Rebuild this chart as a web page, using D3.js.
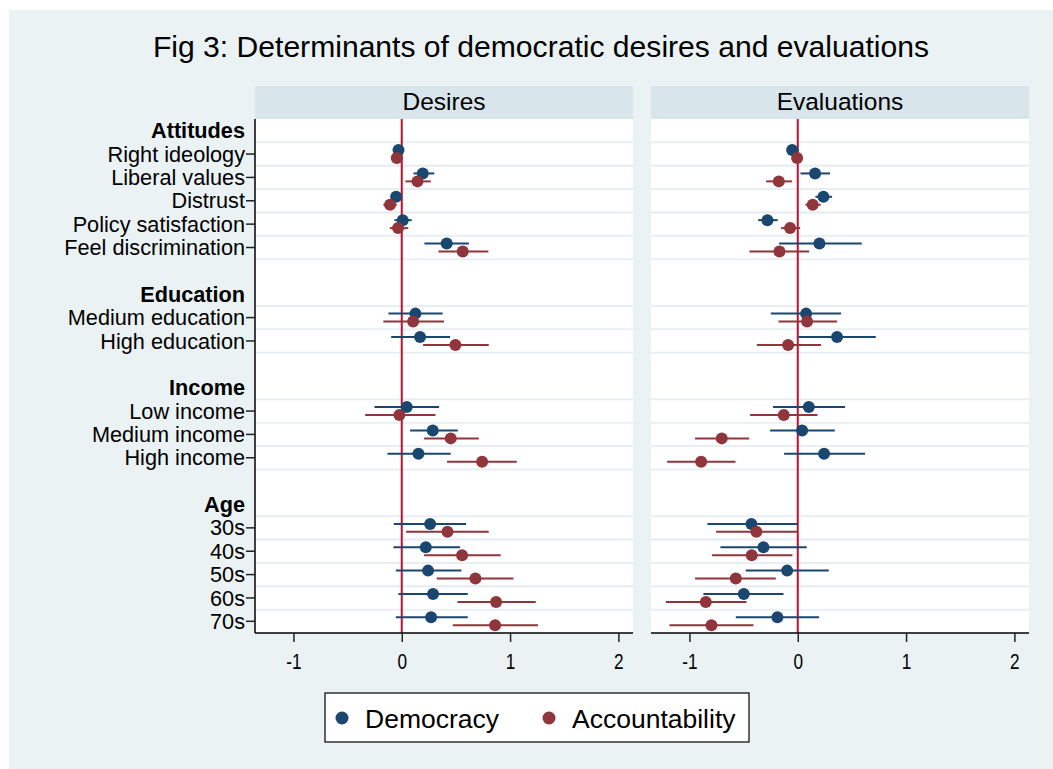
<!DOCTYPE html>
<html>
<head>
<meta charset="utf-8">
<script src="https://cdn.jsdelivr.net/npm/d3@7"></script>
<style>
  html, body { margin: 0; padding: 0; background: #ffffff; }
  svg { display: block; font-family: "Liberation Sans", Arial, sans-serif; }
</style>
</head>
<body>
<svg id="chart" width="1053" height="769"></svg>
<script>
// Row layout of the coefficient plot (blank entries are spacers between groups)
const rows = ["Attitudes", "Right ideology", "Liberal values", "Distrust", "Policy satisfaction",
  "Feel discrimination", "_gap1", "Education", "Medium education", "High education", "_gap2",
  "Income", "Low income", "Medium income", "High income", "_gap3",
  "Age", "30s", "40s", "50s", "60s", "70s"];
const headings = ["Attitudes", "Education", "Income", "Age"];

// Coefficient names, in display order
const coefs = ["Right ideology", "Liberal values", "Distrust", "Policy satisfaction",
  "Feel discrimination", "Medium education", "High education", "Low income",
  "Medium income", "High income", "30s", "40s", "50s", "60s", "70s"];

const panels = ["Desires", "Evaluations"];
const seriesNames = ["Democracy", "Accountability"];
const xTicks = [-1, 0, 1, 2];

// Desires: point estimates and 95% confidence bounds
const desDemEst = [-0.03, 0.194, -0.052, 0.009, 0.415, 0.126, 0.169, 0.046, 0.286, 0.154, 0.262, 0.222, 0.243, 0.289, 0.271];
const desDemLo  = [-0.05, 0.108, -0.075, -0.068, 0.209, -0.123, -0.098, -0.252, 0.077, -0.132, -0.074, -0.077, -0.055, -0.031, -0.055];
const desDemHi  = [-0.01, 0.30, -0.03, 0.092, 0.62, 0.378, 0.446, 0.345, 0.517, 0.452, 0.594, 0.538, 0.551, 0.609, 0.609];

const desAccEst = [-0.046, 0.145, -0.108, -0.034, 0.563, 0.105, 0.495, -0.022, 0.452, 0.742, 0.422, 0.557, 0.68, 0.871, 0.862];
const desAccLo  = [-0.07, 0.034, -0.17, -0.11, 0.338, -0.17, 0.197, -0.338, 0.206, 0.418, 0.04, 0.206, 0.323, 0.514, 0.471];
const desAccHi  = [-0.02, 0.268, -0.046, 0.06, 0.80, 0.39, 0.803, 0.311, 0.711, 1.062, 0.803, 0.914, 1.031, 1.237, 1.258];

// Evaluations: point estimates and 95% confidence bounds
const evaDemEst = [-0.052, 0.16, 0.237, -0.28, 0.2, 0.077, 0.363, 0.102, 0.04, 0.243, -0.428, -0.317, -0.098, -0.498, -0.188];
const evaDemLo  = [-0.075, 0.025, 0.163, -0.366, -0.172, -0.249, 0.006, -0.228, -0.255, -0.126, -0.834, -0.714, -0.48, -0.871, -0.572];
const evaDemHi  = [0.012, 0.298, 0.317, -0.185, 0.591, 0.4, 0.72, 0.437, 0.342, 0.622, 0.0, 0.083, 0.286, -0.132, 0.197];

const evaAccEst = [-0.006, -0.175, 0.138, -0.071, -0.169, 0.086, -0.089, -0.129, -0.702, -0.892, -0.382, -0.425, -0.572, -0.849, -0.797];
const evaAccLo  = [-0.025, -0.292, 0.071, -0.154, -0.446, -0.178, -0.378, -0.44, -0.948, -1.206, -0.754, -0.791, -0.948, -1.218, -1.185];
const evaAccHi  = [0.013, -0.052, 0.212, 0.022, 0.105, 0.363, 0.215, 0.182, -0.449, -0.575, -0.003, -0.049, -0.203, -0.474, -0.409];

const panelData = {
  Desires: [
    { name: "Democracy", est: desDemEst, lo: desDemLo, hi: desDemHi },
    { name: "Accountability", est: desAccEst, lo: desAccLo, hi: desAccHi }
  ],
  Evaluations: [
    { name: "Democracy", est: evaDemEst, lo: evaDemLo, hi: evaDemHi },
    { name: "Accountability", est: evaAccEst, lo: evaAccLo, hi: evaAccHi }
  ]
};

const colors = { Democracy: "#1a476f", Accountability: "#90353b" };
const bgColor = "#eaf2f3";
const stripColor = "#d8e5ea";
const gridColor = "#e8eff2";
const zeroColor = "#c4102f";

const svg = d3.select("#chart");

// Graph region
svg.append("rect").attr("x", 9).attr("y", 10).attr("width", 1053 - 9).attr("height", 769 - 10)
  .attr("fill", bgColor);

// Title
svg.append("text").attr("x", 541).attr("y", 57).attr("text-anchor", "middle")
  .attr("font-size", 30.1).attr("fill", "#000")
  .text("Fig 3: Determinants of democratic desires and evaluations");

const plotTop = 119, plotBottom = 633, panelW = 378;
const panelX = { Desires: 255, Evaluations: 651 };

const y = d3.scalePoint().domain(rows).range([plotTop, plotBottom]).padding(0.5);
const step = y.step();
const offset = { Democracy: -0.17 * step, Accountability: 0.17 * step };

panels.forEach(p => {
  const x0 = panelX[p];
  const x = d3.scaleLinear().domain([-1.355, 2.135]).range([x0, x0 + panelW]);
  const g = svg.append("g");

  // Strip header
  g.append("rect").attr("x", x0).attr("y", 86).attr("width", panelW).attr("height", plotTop - 86)
    .attr("fill", stripColor);
  g.append("text").attr("x", x0 + panelW / 2).attr("y", 110).attr("text-anchor", "middle")
    .attr("font-size", 24.5).attr("fill", "#000").text(p);

  // Plot region
  g.append("rect").attr("x", x0).attr("y", plotTop).attr("width", panelW).attr("height", plotBottom - plotTop)
    .attr("fill", "#ffffff");

  // Grid lines bounding each coefficient row
  const gridYs = Array.from(new Set(coefs.flatMap(c => [y(c) - step / 2, y(c) + step / 2])))
    .filter(v => v < plotBottom - 2);
  g.selectAll(".grid").data(gridYs).join("line")
    .attr("x1", x0).attr("x2", x0 + panelW)
    .attr("y1", d => d).attr("y2", d => d)
    .attr("stroke", gridColor).attr("stroke-width", 2);

  // Zero reference line
  g.append("line").attr("x1", x(0)).attr("x2", x(0)).attr("y1", plotTop).attr("y2", plotBottom)
    .attr("stroke", zeroColor).attr("stroke-width", 2);

  // Confidence intervals and point estimates
  panelData[p].forEach(s => {
    const pts = coefs.map((c, i) => ({ c, est: s.est[i], lo: s.lo[i], hi: s.hi[i] }));
    const sg = g.append("g");
    sg.selectAll("line").data(pts).join("line")
      .attr("x1", d => x(d.lo)).attr("x2", d => x(d.hi))
      .attr("y1", d => y(d.c) + offset[s.name]).attr("y2", d => y(d.c) + offset[s.name])
      .attr("stroke", colors[s.name]).attr("stroke-width", 2);
    sg.selectAll("circle").data(pts).join("circle")
      .attr("cx", d => x(d.est)).attr("cy", d => y(d.c) + offset[s.name])
      .attr("r", 6).attr("fill", colors[s.name]);
  });

  // X axis (plain hyphen for negative labels)
  const xa = g.append("g").attr("transform", `translate(0,${plotBottom})`)
    .call(d3.axisBottom(x).tickValues(xTicks).tickSize(9).tickFormat(d => String(d)));
  xa.select(".domain").attr("stroke", "#000").attr("stroke-width", 1.5)
    .attr("d", `M${x0},0H${x0 + panelW}`);
  xa.selectAll(".tick line").attr("stroke", "#222").attr("stroke-width", 1.5);
  xa.selectAll(".tick text")
    .attr("font-size", 21.5).attr("fill", "#000").attr("font-family", "Liberation Sans, Arial, sans-serif")
    .attr("y", 0).attr("dy", 0)
    .attr("transform", "translate(0,35.5) scale(0.8,1)");
});

// Y axis on the left panel
const yx = panelX.Desires;
const ya = svg.append("g");
ya.append("line").attr("x1", yx).attr("x2", yx).attr("y1", plotTop).attr("y2", plotBottom)
  .attr("stroke", "#000").attr("stroke-width", 1.5);
ya.selectAll(".ytick").data(coefs).join("line")
  .attr("x1", yx - 9).attr("x2", yx)
  .attr("y1", d => y(d)).attr("y2", d => y(d))
  .attr("stroke", "#222").attr("stroke-width", 1.5);
ya.selectAll(".ylab").data(rows.filter(r => !r.startsWith("_"))).join("text")
  .attr("x", yx - 10).attr("y", d => y(d)).attr("dy", "0.35em")
  .attr("text-anchor", "end").attr("font-size", 21.7).attr("fill", "#000")
  .attr("font-weight", d => headings.includes(d) ? "bold" : "normal")
  .text(d => d);

// Legend
const lg = svg.append("g");
lg.append("rect").attr("x", 325).attr("y", 693).attr("width", 424).attr("height", 49)
  .attr("fill", "#ffffff").attr("stroke", "#000").attr("stroke-width", 1.2);
const legendX = { Democracy: 342, Accountability: 549 };
seriesNames.forEach(n => {
  lg.append("circle").attr("cx", legendX[n]).attr("cy", 718).attr("r", 6.5).attr("fill", colors[n]);
  lg.append("text").attr("x", legendX[n] + 23).attr("y", 727.5)
    .attr("font-size", 26.5).attr("fill", "#000").text(n);
});
</script>
</body>
</html>
